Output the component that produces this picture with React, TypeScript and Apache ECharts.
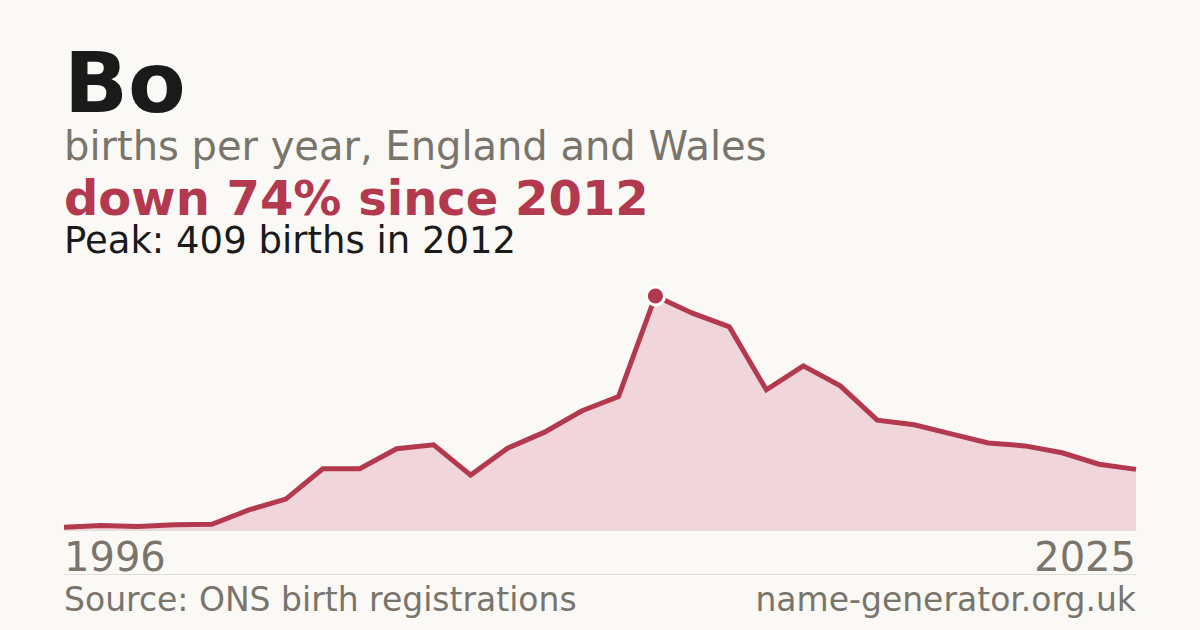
import React, { useEffect, useRef } from 'react';
import * as echarts from 'echarts';

const years: string[] = [];
for (let y = 1996; y <= 2025; y++) years.push(String(y));
const births = [5, 8, 6, 9, 10, 35, 54, 107, 107, 142, 149, 96, 143, 171, 208, 233, 409, 379, 355, 245, 287, 252, 192, 184, 168, 152, 147, 135, 115, 106];
const tickYears = ['1996', '2025'];

const FONT = '"DejaVu Sans", sans-serif';
const RED = '#b3394f';
const GREY = '#79746c';

export default function App() {
  const ref = useRef<HTMLDivElement>(null);
  useEffect(() => {
    if (!ref.current) return;
    const chart = echarts.init(ref.current, null, { renderer: 'svg' });
    const txt = (x: number, y: number, text: string, size: number, color: string, weight = 'normal', align = 'left') => ({
      type: 'text', x, y,
      style: {
        text, fontFamily: FONT, fontSize: size, fontWeight: weight, fill: color, align,
        verticalAlign: 'middle', lineHeight: Math.round(size * 0.85),
      },
    });
    chart.setOption({
      animation: false,
      backgroundColor: '#faf9f5',
      grid: { left: 64, right: 64, top: 296, bottom: 100 },
      xAxis: {
        type: 'category', data: years, boundaryGap: false,
        axisLine: { lineStyle: { color: '#e2dfd8', width: 1 } },
        axisTick: { show: false },
        axisLabel: {
          margin: 7, fontFamily: FONT, fontSize: 40, color: GREY,
          interval: (i: number, v: string) => tickYears.includes(v),
          alignMinLabel: 'left', alignMaxLabel: 'right',
        },
        splitLine: { show: false },
      },
      yAxis: { type: 'value', min: 0, max: 409, show: false, splitLine: { show: false } },
      series: [{
        type: 'line', data: births, showSymbol: false,
        lineStyle: { color: RED, width: 5, join: 'miter' },
        areaStyle: { color: '#f0d5da', opacity: 1 },
        markPoint: {
          data: [{ type: 'max' }], symbol: 'circle', symbolSize: 18,
          itemStyle: { color: RED, borderColor: '#ffffff', borderWidth: 3 },
          label: { show: false },
        },
      }],
      graphic: [
        txt(64, 83, 'Bo', 84, '#1a1a1a', 'bold'),
        txt(64, 146, 'births per year, England and Wales', 40, GREY),
        txt(64, 198, 'down 74% since 2012', 48, RED, 'bold'),
        txt(64, 240, 'Peak: 409 births in 2012', 37, '#1a1a1a'),
        { type: 'line', shape: { x1: 64, y1: 574.5, x2: 1136, y2: 574.5 }, style: { stroke: '#e2dfd8', lineWidth: 1 } },
        txt(64, 599, 'Source: ONS birth registrations', 33, GREY),
        txt(1136, 599, 'name-generator.org.uk', 33, GREY, 'normal', 'right'),
      ],
    });
    return () => chart.dispose();
  }, []);
  return <div ref={ref} style={{ width: 1200, height: 630, position: 'fixed', left: 0, top: 0 }} />;
}
